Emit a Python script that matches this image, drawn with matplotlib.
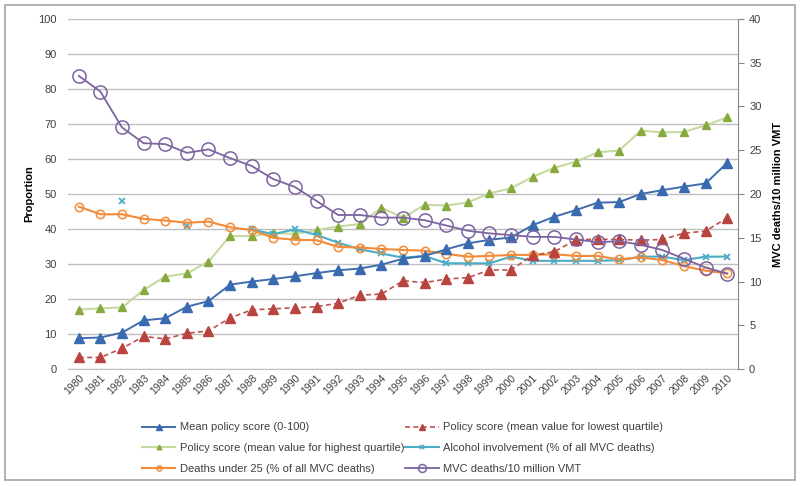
import numpy as np
import matplotlib
matplotlib.use("Agg")
import matplotlib.pyplot as plt
from matplotlib.patches import Rectangle

plt.rcParams['font.family'] = ['Liberation Sans Narrow', 'Liberation Sans', 'DejaVu Sans']

years = list(range(1980, 2011))

mean_policy = [8.8, 9.0, 10.4, 13.9, 14.5, 17.8, 19.4, 24.1, 25.0, 25.7, 26.5, 27.4, 28.2, 28.7,
               29.8, 31.5, 32.3, 34.2, 35.9, 36.9, 37.6, 41.1, 43.5, 45.4, 47.5, 47.7, 50.0, 51.1,
               52.1, 53.0, 58.9]
lowest_q = [3.3, 3.3, 5.9, 9.3, 8.6, 10.2, 10.9, 14.6, 16.9, 17.2, 17.5, 17.8, 18.8, 21.1, 21.4,
            25.2, 24.7, 25.7, 26.1, 28.3, 28.3, 32.5, 33.5, 36.9, 37.1, 37.0, 36.8, 37.0, 38.8,
            39.4, 43.2]
highest_q = [17.0, 17.3, 17.6, 22.6, 26.4, 27.3, 30.7, 38.0, 38.0, 38.8, 38.6, 39.7, 40.7, 41.4,
             46.1, 43.2, 46.9, 46.7, 47.6, 50.2, 51.6, 54.9, 57.5, 59.2, 61.9, 62.4, 68.1, 67.6,
             67.7, 69.6, 71.9]
alcohol = [np.nan, np.nan, 48.1, np.nan, np.nan, 40.9, np.nan, np.nan, 39.9, 38.5, 39.9, 38.3,
           36.1, 34.2, 33.0, 31.8, 32.3, 30.2, 30.2, 30.2, 32.1, 30.9, 30.9, 30.9, 30.9, 31.1,
           32.1, 32.1, 31.1, 32.1, 32.1]
under25 = [46.4, 44.2, 44.2, 42.9, 42.4, 41.8, 42.1, 40.5, 39.7, 37.5, 36.9, 36.8, 34.9, 34.7,
           34.3, 34.0, 33.8, 32.9, 32.1, 32.3, 32.6, 32.6, 32.8, 32.3, 32.3, 31.3, 31.9, 31.1,
           29.4, 28.1, 27.3]
mvc_deaths = [33.5, 31.7, 27.6, 25.8, 25.7, 24.7, 25.1, 24.1, 23.2, 21.7, 20.8, 19.2, 17.6, 17.6,
              17.3, 17.3, 17.0, 16.4, 15.8, 15.5, 15.3, 15.1, 15.1, 14.8, 14.5, 14.6, 14.2, 13.6,
              12.6, 11.6, 10.9]

labels = ["Mean policy score (0-100)",
          "Policy score (mean value for lowest quartile)",
          "Policy score (mean value for highest quartile)",
          "Alcohol involvement (% of all MVC deaths)",
          "Deaths under 25 (% of all MVC deaths)",
          "MVC deaths/10 million VMT"]

x = np.arange(len(years))
txt = '#404040'

fig = plt.figure(figsize=(8, 4.86), dpi=100)
fig.patches.append(Rectangle((0.006, 0.012), 0.988, 0.978, transform=fig.transFigure,
                             fill=False, edgecolor='#A6A6A6', linewidth=1.2))
ax = fig.add_axes([0.085, 0.2407, 0.8375, 0.7203])
ax2 = ax.twinx()

ax.set_xlim(-0.5, len(years) - 0.5)
ax.set_ylim(0, 100)
ax.set_yticks(range(0, 101, 10))
ax.yaxis.grid(True, color='#BFBFBF', linewidth=1.0)
ax.set_axisbelow(True)
for s in ['top', 'left', 'right']:
    ax.spines[s].set_visible(False)
ax.spines['bottom'].set_color('#BFBFBF')
ax.tick_params(axis='y', length=0, labelsize=8, colors=txt, pad=8)
ax.set_xticks(x)
ax.set_xticklabels([str(y) for y in years], rotation=45, ha='right', rotation_mode='anchor')
ax.tick_params(axis='x', length=0, labelsize=7.5, colors=txt, pad=3)
ax.set_ylabel("Proportion", fontsize=8, fontweight='bold', color='black', labelpad=3)

ax2.set_ylim(0, 40)
ax2.set_yticks(range(0, 41, 5))
for s in ['top', 'left', 'bottom']:
    ax2.spines[s].set_visible(False)
ax2.spines['right'].set_color('#868686')
ax2.tick_params(axis='y', length=4, color='#868686', labelsize=8, colors=txt, pad=4)
ax2.set_ylabel("MVC deaths/10 million VMT", fontsize=8, fontweight='bold', color='black', labelpad=8)

h1, = ax.plot(x, mean_policy, color='#3F6DAE', lw=1.4, marker='^', ms=7.5,
              mfc='#3A6AB0', mec='#3A6AB0', zorder=5)
h2, = ax.plot(x, lowest_q, color='#C0504D', lw=1.2, ls=(0, (3, 2)), marker='^', ms=7.5,
              mfc='#B84440', mec='#B84440', zorder=5)
h3, = ax.plot(x, highest_q, color='#C6D9A0', lw=1.5, marker='^', ms=5.5,
              mfc='#86AA3E', mec='#86AA3E', zorder=4)
h4, = ax.plot(x, alcohol, color='#4BACC6', lw=1.5, marker='x', ms=4.5, mew=1.3,
              mec='#4BACC6', zorder=4)
h5, = ax.plot(x, under25, color='#F38B38', lw=1.5, marker='o', ms=6, mfc='none',
              mec='#F38B38', mew=1.1, zorder=4)
h6, = ax2.plot(x, mvc_deaths, color='#7D63A0', lw=1.3, marker='o', ms=9.5, mfc='none',
               mec='#7D63A0', mew=1.1, zorder=6)

handles = [h1, h3, h5, h2, h4, h6]
hl = [labels[0], labels[2], labels[4], labels[1], labels[3], labels[5]]
fig.legend(handles, hl, ncol=2, loc='upper left', bbox_to_anchor=(0.172, 0.14),
           frameon=False, fontsize=8, labelcolor=txt, handlelength=3.0, handletextpad=0.4,
           columnspacing=0.1, labelspacing=0.95, borderaxespad=0, markerscale=0.6)

fig.savefig("out.png", dpi=100)
